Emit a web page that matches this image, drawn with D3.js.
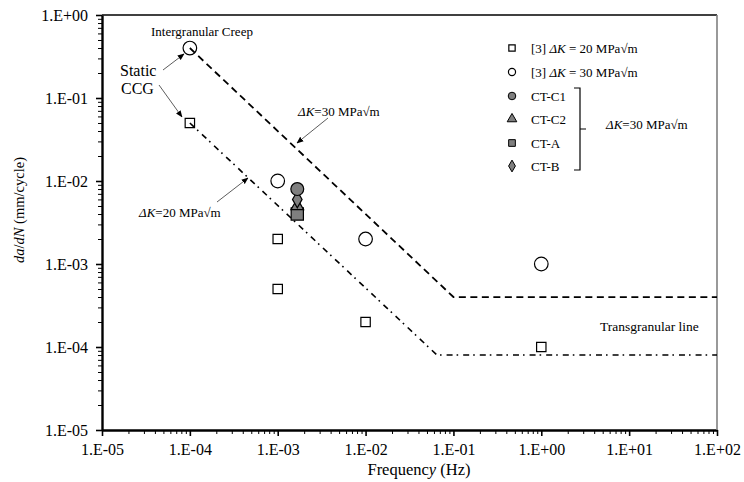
<!DOCTYPE html>
<html><head><meta charset="utf-8">
<script src="https://cdn.jsdelivr.net/npm/d3@7"></script>
<style>body{margin:0;background:#fff}svg{display:block}</style>
</head><body><svg id="c" width="744" height="482" font-family="Liberation Serif"></svg>
<script>
// ---- data ----
const xTicks = [1e-5,1e-4,1e-3,1e-2,1e-1,1e0,1e1,1e2];
const xTickLabels = ["1.E-05","1.E-04","1.E-03","1.E-02","1.E-01","1.E+00","1.E+01","1.E+02"];
const yTicks = [1e0,1e-1,1e-2,1e-3,1e-4,1e-5];
const yTickLabels = ["1.E+00","1.E-01","1.E-02","1.E-03","1.E-04","1.E-05"];
const dk20Freq = [1e-4,1e-3,1e-3,1e-2,1e0];
const dk20Rate = [5e-2,2e-3,5e-4,2e-4,1e-4];
const dk30Freq = [1e-4,1e-3,1e-2,1e0];
const dk30Rate = [4e-1,1e-2,2e-3,1e-3];
const ctC2 = [[1.67e-3,5e-3]];
const ctA  = [[1.67e-3,4e-3]];
const ctB  = [[1.67e-3,6e-3]];
const ctC1 = [[1.67e-3,8e-3]];
const line30 = [[1e-4,4e-1],[1e-1,4e-4],[1e2,4e-4]];
const line20 = [[1e-4,5e-2],[6.5e-2,8e-5],[1e2,8e-5]];

const FONT = "'Liberation Serif','Times New Roman',serif";
const svg = d3.select("#c");
const L=102,R=717,T=15,B=430;
const x = d3.scaleLog().domain([1e-5,1e2]).range([L,R]);
const y = d3.scaleLog().domain([1e-5,1e0]).range([B,T]);
const fmt = (arr,labels)=> d=>labels[arr.indexOf(d)];

// minor ticks
const minorX=[],minorY=[];
for(let e=-5;e<2;e++) for(let k=2;k<10;k++) minorX.push(k*Math.pow(10,e));
for(let e=-5;e<0;e++) for(let k=2;k<10;k++) minorY.push(k*Math.pow(10,e));

svg.append("g").attr("transform",`translate(0,${B})`)
  .call(d3.axisBottom(x).tickValues(minorX).tickSize(4).tickFormat(""))
  .call(g=>{g.select(".domain").remove();g.selectAll("line").attr("stroke","#000").attr("stroke-width",1);});
svg.append("g").attr("transform",`translate(${L},0)`)
  .call(d3.axisLeft(y).tickValues(minorY).tickSize(4).tickFormat(""))
  .call(g=>{g.select(".domain").remove();g.selectAll("line").attr("stroke","#000").attr("stroke-width",1);});

const xa = svg.append("g").attr("transform",`translate(0,${B})`)
  .call(d3.axisBottom(x).tickValues(xTicks).tickSize(6).tickSizeOuter(0).tickFormat(fmt(xTicks,xTickLabels)).tickPadding(8));
xa.select(".domain").attr("stroke","#000").attr("stroke-width",2.4);
xa.selectAll("line").attr("stroke","#000").attr("stroke-width",1.6);
xa.selectAll("text").attr("font-size",16).attr("fill","#000");

const ya = svg.append("g").attr("transform",`translate(${L},0)`)
  .call(d3.axisLeft(y).tickValues(yTicks).tickSize(6).tickSizeOuter(0).tickFormat(fmt(yTicks,yTickLabels)).tickPadding(8));
ya.select(".domain").attr("stroke","#000").attr("stroke-width",2.4);
ya.selectAll("line").attr("stroke","#000").attr("stroke-width",1.6);
ya.selectAll("text").attr("font-size",16).attr("fill","#000");

// top & right frame
svg.append("line").attr("x1",L).attr("x2",R).attr("y1",T).attr("y2",T).attr("stroke","#000").attr("stroke-width",1.6);
svg.append("line").attr("x1",R).attr("x2",R).attr("y1",T).attr("y2",B).attr("stroke","#808080").attr("stroke-width",1.6);

// lines
const lg = d3.line().x(d=>x(d[0])).y(d=>y(d[1]));
svg.append("path").attr("d",lg(line30)).attr("fill","none").attr("stroke","#000").attr("stroke-width",1.8).attr("stroke-dasharray","7,4.5");
svg.append("path").attr("d",lg(line20)).attr("fill","none").attr("stroke","#000").attr("stroke-width",1.6).attr("stroke-dasharray","6,4,1.6,5");

// markers
const sym = (type,size)=>d3.symbol().type(type).size(size)();
function pts(data,type,size,fill){
  svg.append("g").selectAll("path").data(data).join("path")
    .attr("transform",d=>`translate(${x(d[0])},${y(d[1])})`)
    .attr("d",sym(type,size)).attr("fill",fill).attr("stroke","#000").attr("stroke-width",1.2);
}
pts(dk30Freq.map((f,i)=>[f,dk30Rate[i]]),d3.symbolCircle,145,"none");
pts(dk20Freq.map((f,i)=>[f,dk20Rate[i]]),d3.symbolSquare,88,"none");
pts(ctA,d3.symbolSquare,150,"#7f7f7f");
pts(ctC2,d3.symbolTriangle,70,"#7f7f7f");
pts(ctB,d3.symbolDiamond,80,"#7f7f7f");
pts(ctC1,d3.symbolCircle,130,"#7f7f7f");

// arrows
const defs=svg.append("defs");
defs.append("marker").attr("id","ah").attr("viewBox","0 0 10 10").attr("refX",9).attr("refY",5)
 .attr("markerWidth",7).attr("markerHeight",7).attr("orient","auto").attr("markerUnits","userSpaceOnUse")
 .append("path").attr("d","M0,1 L10,5 L0,9 Z").attr("fill","#000");
function arrow(x1,y1,x2,y2){svg.append("line").attr("x1",x1).attr("y1",y1).attr("x2",x2).attr("y2",y2)
 .attr("stroke","#333").attr("stroke-width",0.8).attr("marker-end","url(#ah)");}
arrow(163,70,184,54);
arrow(159,85,182,117);
arrow(217,202,248,178);
arrow(328,118,297,143);

// annotation texts
function txt(xp,yp,s,size,anchor){return svg.append("text").attr("x",xp).attr("y",yp).attr("font-size",size).attr("text-anchor",anchor||"start").attr("fill","#000").text(s);}
txt(151,36,"Intergranular Creep",13);
txt(120,76,"Static",16);
txt(121,94,"CCG",16);
function dk(xp,yp,val,size){
  const t=svg.append("text").attr("x",xp).attr("y",yp).attr("font-size",size).attr("fill","#000");
  t.append("tspan").attr("font-style","italic").text("ΔK");
  t.append("tspan").text(`=${val} MPa√m`);
  return t;
}
dk(139,217,"20",13);
dk(298,116,"30",13);
txt(600,331,"Transgranular line",13.5);

// legend
const legY=[48,72,96,119,143,166];
const legX=512;
svg.append("path").attr("transform",`translate(${legX},${legY[0]})`).attr("d",sym(d3.symbolSquare,40)).attr("fill","none").attr("stroke","#000").attr("stroke-width",1.2);
svg.append("path").attr("transform",`translate(${legX},${legY[1]})`).attr("d",sym(d3.symbolCircle,40)).attr("fill","none").attr("stroke","#000").attr("stroke-width",1.2);
svg.append("path").attr("transform",`translate(${legX},${legY[2]})`).attr("d",sym(d3.symbolCircle,45)).attr("fill","#7f7f7f").attr("stroke","#000").attr("stroke-width",1);
svg.append("path").attr("transform",`translate(${legX},${legY[3]})`).attr("d",sym(d3.symbolTriangle,40)).attr("fill","#7f7f7f").attr("stroke","#000").attr("stroke-width",1);
svg.append("path").attr("transform",`translate(${legX},${legY[4]})`).attr("d",sym(d3.symbolSquare,45)).attr("fill","#7f7f7f").attr("stroke","#000").attr("stroke-width",1);
svg.append("path").attr("transform",`translate(${legX},${legY[5]})`).attr("d",sym(d3.symbolDiamond,40)).attr("fill","#7f7f7f").attr("stroke","#000").attr("stroke-width",1);
function leg3(yp,val){const t=svg.append("text").attr("x",531).attr("y",yp+4.5).attr("font-size",13).attr("fill","#000");
 t.append("tspan").text("[3] ");t.append("tspan").attr("font-style","italic").text("ΔK");t.append("tspan").text(` = ${val} MPa√m`);}
leg3(legY[0],"20");leg3(legY[1],"30");
["CT-C1","CT-C2","CT-A","CT-B"].forEach((s,i)=>txt(531,legY[i+2]+4.5,s,13));
svg.append("path").attr("d","M574,88 L580,88 L580,170 L574,170 M580,129 L586,129").attr("fill","none").attr("stroke","#000").attr("stroke-width",1.2);
dk(606,129,"30",13);

// axis titles
const xt=svg.append("text").attr("x",419).attr("y",475).attr("text-anchor","middle").attr("font-size",16.5).attr("fill","#000");
xt.append("tspan").text("Frequenc");xt.append("tspan").attr("font-style","italic").text("y");xt.append("tspan").text(" (Hz)");
const yt=svg.append("text").attr("transform","translate(24,210) rotate(-90)").attr("text-anchor","middle").attr("font-size",14.5).attr("fill","#000");
yt.append("tspan").attr("font-style","italic").text("da");yt.append("tspan").text("/");yt.append("tspan").attr("font-style","italic").text("dN");yt.append("tspan").text(" (mm/cycle)");

svg.selectAll("text").style("font-family",FONT);
</script></body></html>
